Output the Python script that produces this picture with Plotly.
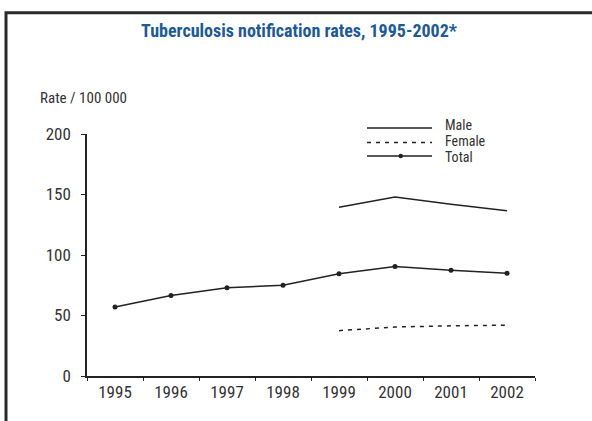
import plotly.graph_objects as go

years = ["1995", "1996", "1997", "1998", "1999", "2000", "2001", "2002"]
total = [57, 66.5, 73, 75, 84.5, 90.5, 87.5, 85]
male_years = ["1999", "2000", "2001", "2002"]
male = [139.5, 148, 142, 136.5]
female_years = ["1999", "2000", "2001", "2002"]
female = [37.5, 40.5, 41.5, 42]

title_text = "Tuberculosis notification rates, 1995-2002*"
ylabel_text = "Rate / 100 000"
legend_names = ["Male", "Female", "Total"]

FONT = "Roboto Condensed, Roboto, Liberation Sans, sans-serif"
INK = "#222222"
TXT = "#333333"

W, H = 592, 421
L, R = 87, 535          # plot area x pixels
T, B = 134, 375.7       # plot area y pixels (top=200, bottom=0)


def px(x):
    return (x - L) / (R - L)


def py(y):
    return (B - y) / (B - T)


fig = go.Figure()
fig.add_trace(go.Scatter(x=male_years, y=male, mode="lines",
                         line=dict(color=INK, width=1.5), name="Male", showlegend=False))
fig.add_trace(go.Scatter(x=female_years, y=female, mode="lines",
                         line=dict(color=INK, width=1.5, dash="4px,5px"), name="Female",
                         showlegend=False))
fig.add_trace(go.Scatter(x=years, y=total, mode="lines+markers",
                         line=dict(color=INK, width=1.5),
                         marker=dict(color=INK, size=5), name="Total", showlegend=False))

shapes = []
# outer frame (left and top edges)
shapes.append(dict(type="path", xref="paper", yref="paper",
                   path=f"M {px(6)} {py(440)} L {px(6)} {py(13)} L {px(600)} {py(13)}",
                   line=dict(color="#2a2a2a", width=3)))
# manual legend
leg_x0, leg_x1, txt_x = 367, 432, 443
leg_y = [128, 142.5, 156]
dashes = ["solid", "4px,5px", "solid"]
for yy, d in zip(leg_y, dashes):
    shapes.append(dict(type="line", xref="paper", yref="paper",
                       x0=px(leg_x0), x1=px(leg_x1), y0=py(yy), y1=py(yy),
                       line=dict(color=INK, width=1.5, dash=d)))
shapes.append(dict(type="circle", xref="paper", yref="paper",
                   x0=px(398.5), x1=px(403), y0=py(158.3), y1=py(153.8),
                   fillcolor=INK, line=dict(color=INK, width=0)))

annotations = []
for yy, name in zip([125.5, 141, 156.5], legend_names):
    annotations.append(dict(text=name, xref="paper", yref="paper", x=px(txt_x), y=py(yy),
                            xanchor="left", yanchor="middle", showarrow=False,
                            font=dict(family=FONT, size=14, color=TXT)))
annotations.append(dict(text=ylabel_text, xref="paper", yref="paper", x=px(38), y=py(98),
                        xanchor="left", yanchor="middle", showarrow=False,
                        font=dict(family=FONT, size=15, color=TXT)))

fig.update_layout(
    width=W, height=H,
    margin=dict(l=L, r=W - R, t=T, b=H - B, pad=0),
    paper_bgcolor="white", plot_bgcolor="white",
    title=dict(text=title_text, x=299 / W, xanchor="center", xref="container",
               y=1 - 31 / H, yanchor="middle", yref="container",
               font=dict(family=FONT, size=18, color="#1a5a9c", weight="bold")),
    shapes=shapes, annotations=annotations,
    showlegend=False,
    xaxis=dict(type="category", categoryorder="array", categoryarray=years,
               range=[-0.5, 7.5], tickson="boundaries", ticks="outside", ticklen=3,
               tickcolor=INK, showline=True, linecolor=INK, linewidth=1.5,
               showgrid=False, zeroline=False,
               tickfont=dict(family=FONT, size=17, color=TXT)),
    yaxis=dict(range=[0, 200], tickvals=[0, 50, 100, 150, 200], ticks="outside",
               ticklen=4, tickcolor=INK, showline=True, linecolor=INK, linewidth=1.5,
               showgrid=False, zeroline=False, ticklabelstandoff=7,
               tickfont=dict(family=FONT, size=17, color=TXT)),
)

fig.write_html("out.html", config={"displayModeBar": False},
               post_script="document.body.style.margin='0';")
